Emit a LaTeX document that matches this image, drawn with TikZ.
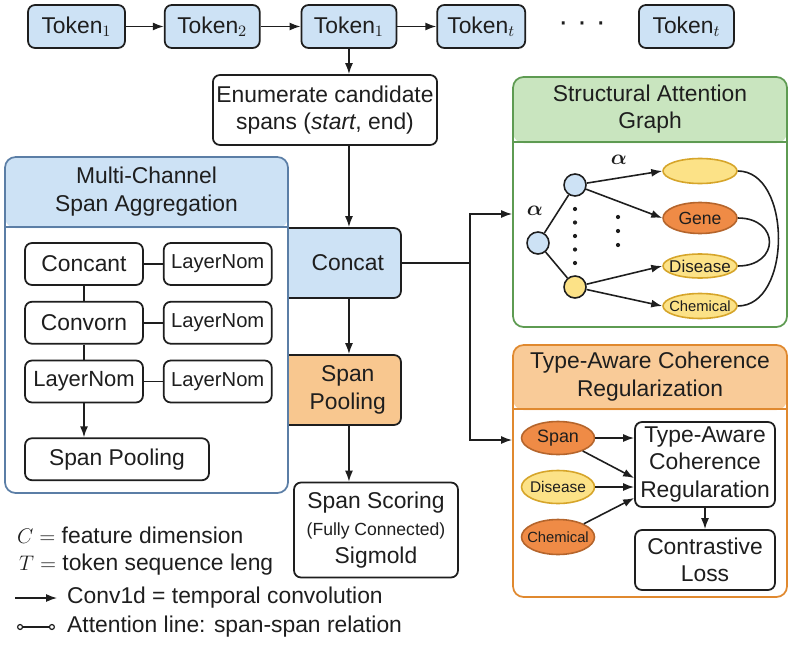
\documentclass[tikz,border=0pt]{standalone}
\usepackage{fontspec}
\setmainfont{Liberation Sans}
\usepackage{amsmath,amssymb}
\usetikzlibrary{arrows.meta,positioning,calc,shapes.geometric}
\definecolor{ink}{HTML}{1E1E1E}
\definecolor{skyfill}{HTML}{CDE2F5}
\definecolor{steel}{HTML}{5B7EA6}
\definecolor{peach}{HTML}{F8C78F}
\definecolor{mint}{HTML}{C9E5BF}
\definecolor{leaf}{HTML}{5E9B52}
\definecolor{apricot}{HTML}{F9CB98}
\definecolor{amber}{HTML}{E0892F}
\definecolor{butter}{HTML}{FCE287}
\definecolor{gold}{HTML}{D6A52A}
\definecolor{tangerine}{HTML}{EF8B46}
\definecolor{rust}{HTML}{B5652C}
\newcommand{\inell}[1]{\makebox[0pt]{#1}}

\begin{document}
\begin{tikzpicture}[x=0.02cm,y=-0.02cm,node distance=0.3cm and 0.38cm,every node/.style={font=\fontsize{13}{15.5}\selectfont,align=center,text=ink},token/.style={draw=ink,fill=skyfill,rounded corners=4pt,line width=1pt,minimum width=1.9cm,minimum height=0.86cm,inner sep=1pt},box/.style={draw=ink,fill=white,rounded corners=4pt,line width=1pt,inner sep=2pt},sub/.style={box,minimum height=0.84cm},panel/.style={draw=#1,fill=white,rounded corners=6pt,line width=1pt},headfill/.style 2 args={path picture={\fill[#1] (path picture bounding box.north west) rectangle ([yshift=-#2]path picture bounding box.north east);}},knot/.style={circle,draw=ink,line width=0.9pt,minimum size=0.44cm,inner sep=0pt},blob/.style={ellipse,draw=#1,line width=0.9pt,inner sep=0pt,minimum width=1.48cm},arr/.style={-{Latex[length=2.2mm,width=1.6mm]},line width=0.9pt,draw=ink},wire/.style={line width=0.9pt,draw=ink}]
\useasboundingbox (0,0) rectangle (793,645);
\node[token,minimum width=1.94cm] (t1) at (76.5,26.5) {Token$_1$};
\node[token,right=0.76cm of t1] (t2) {Token$_2$}; \node[token,right=0.8cm of t2] (t3) {Token$_1$};
\node[token,minimum width=1.76cm,right=0.78cm of t3] (t4) {Token$_t$}; \node[token,right=2.24cm of t4] (t5) {Token$_t$};
\node (tdots) at ($(t4.east)!0.5!(t5.west)$) {\fontsize{17}{17}\selectfont\textperiodcentered\hspace{5pt}\textperiodcentered\hspace{5pt}\textperiodcentered};
\draw[arr] (t1) -- (t2); \draw[arr] (t2) -- (t3); \draw[arr] (t3) -- (t4);
\node[box,minimum width=4cm,minimum height=1.4cm] (enum) at (325,110) {Enumerate candidate\\spans (\textit{start}, end)};
\draw[arr] (t3.south) -- (t3.south |- enum.north);
\node[token,minimum width=2.58cm,minimum height=1.4cm] (concat) at (336.5,263) {\hspace*{0.45cm}Concat};
\node[token,fill=peach,minimum width=2.58cm,minimum height=1.4cm] (pool) at (336.5,390) {\hspace*{0.45cm}Span\\\hspace*{0.45cm}Pooling};
\node[box,minimum width=3.28cm,minimum height=1.9cm] (score) at (376,530) {Span Scoring\\{\fontsize{10}{12}\selectfont(Fully Connected)}\\Sigmold};
\draw[arr] (enum.south -| t3) -- (concat.north -| t3);
\draw[arr] (concat.south -| t3) -- (pool.north -| t3);
\draw[arr] (pool.south -| t3) -- (score.north -| t3);
\node[panel=steel,headfill={skyfill}{1.42cm},minimum width=5.66cm,minimum height=6.72cm] (mca) at (146.5,325) {};
\draw[steel,line width=1pt] ([yshift=-1.42cm]mca.north west) -- ([yshift=-1.42cm]mca.north east);
\node (mcat) at ([yshift=-0.71cm]mca.north) {Multi-Channel\\Span Aggregation};
\node[sub,minimum width=2.36cm] (cc1) at (84,264) {Concant}; \node[sub,minimum width=2.16cm,right=0.38cm of cc1,font=\fontsize{11.5}{14}\selectfont] (ln1) {LayerNom};
\node[sub,minimum width=2.36cm,below=0.3cm of cc1] (cv) {Convorn}; \node[sub,minimum width=2.16cm,right=0.38cm of cv,font=\fontsize{11.5}{14}\selectfont] (ln2) {LayerNom};
\node[sub,minimum width=2.36cm,below=0.3cm of cv,font=\fontsize{12.5}{15}\selectfont] (ln3) {LayerNom}; \node[sub,minimum width=2.16cm,right=0.38cm of ln3,font=\fontsize{11.5}{14}\selectfont] (ln4) {LayerNom};
\node[sub,minimum width=3.68cm,below=0.68cm of ln3.south west,anchor=north west] (msp) {Span Pooling};
\draw[wire] (cc1) -- (ln1); \draw[wire] (cv) -- (ln2); \draw[wire] (ln3) -- (ln4);
\draw[wire] (cc1) -- (cv); \draw[wire] (cv) -- (ln3);
\draw[arr] (ln3) -- (msp.north -| ln3);
\node[panel=leaf,headfill={mint}{1.32cm},minimum width=5.48cm,minimum height=5cm] (sag) at (650,202) {};
\draw[leaf,line width=1pt] ([yshift=-1.32cm]sag.north west) -- ([yshift=-1.32cm]sag.north east);
\node (sagt) at ([yshift=-0.66cm]sag.north) {Structural Attention\\Graph};
\node[knot,fill=skyfill] (g0) at (538,243) {}; \node[knot,fill=skyfill] (g1) at (575,185) {}; \node[knot,fill=butter] (g2) at (575,287) {};
\node[blob=gold,fill=butter,minimum height=0.5cm] (ty0) at (700,171) {};
\node[blob=rust,fill=tangerine,minimum height=0.62cm,font=\fontsize{10}{12}\selectfont] (gene) at (700,218) {\inell{Gene}};
\node[blob=gold,fill=butter,minimum height=0.48cm,font=\fontsize{9.7}{12}\selectfont] (dis) at (700,266) {\inell{Disease}};
\node[blob=gold,fill=butter,minimum height=0.5cm,font=\fontsize{8.4}{10}\selectfont] (chem) at (700,306) {\inell{Chemical}};
\draw[wire] (g0) -- (g1); \draw[wire] (g0) -- (g2);
\draw[arr] (g1) -- (ty0.west); \draw[arr] (g1) -- (gene.west);
\draw[arr] (g2) -- (dis.west); \draw[arr] (g2) -- (chem.west);
\draw[wire] (ty0.east) .. controls (792,171) and (792,306) .. (chem.east);
\draw[wire] (gene.east) .. controls (780,218) and (780,266) .. (dis.east);
\node (al1) at (535,211) {$\boldsymbol{\alpha}$}; \node (al2) at (619,160) {$\boldsymbol{\alpha}$};
\fill[ink] (575,209) circle (1.2pt) (575,222.5) circle (1.2pt) (575,236) circle (1.2pt) (575,249.5) circle (1.2pt) (575,263) circle (1.2pt);
\fill[ink] (618,217) circle (1.2pt) (618,231) circle (1.2pt) (618,245) circle (1.2pt);
\node[panel=amber,headfill={apricot}{1.3cm},minimum width=5.48cm,minimum height=5.04cm] (tacr) at (650,471) {};
\draw[amber,line width=1pt] ([yshift=-1.3cm]tacr.north west) -- ([yshift=-1.3cm]tacr.north east);
\node (tacrt) at ([yshift=-0.65cm]tacr.north) {Type-Aware Coherence\\Regularization};
\node[blob=rust,fill=tangerine,minimum width=1.46cm,minimum height=0.66cm,font=\fontsize{10.2}{12}\selectfont] (tspan) at (558,438) {\inell{Span}};
\node[blob=gold,fill=butter,minimum width=1.46cm,minimum height=0.66cm,font=\fontsize{8.8}{11}\selectfont] (tdis) at (558,487) {\inell{Disease}};
\node[blob=rust,fill=tangerine,minimum width=1.46cm,minimum height=0.7cm,font=\fontsize{8.4}{10}\selectfont] (tchem) at (558,537) {\inell{Chemical}};
\node[box,minimum width=2.8cm,minimum height=1.7cm] (coh) at (705,464.5) {Type-Aware\\Coherence\\Regularation};
\node[box,minimum width=2.8cm,minimum height=1.2cm] (closs) at (705,560) {Contrastive\\Loss};
\draw[arr] (tspan) -- (coh.west |- tspan); \draw[arr] (tspan) -- ([yshift=-0.27cm]coh.west);
\draw[arr] (tdis) -- (coh.west |- tdis); \draw[arr] (tchem) -- ([yshift=-0.67cm]coh.west);
\draw[arr] (coh) -- (closs);
\coordinate (jn) at (470,263);
\draw[wire] (concat.east) -- (jn);
\draw[arr] (jn) |- ([yshift=-0.24cm]sag.west);
\draw[arr] (jn) |- ([yshift=0.62cm]tacr.west);
\node[anchor=west] (lgc) at (11,535) {$C =$ feature dimension};
\node[anchor=west] (lgt) at (13,565) {$T =$ token sequence leng};
\coordinate (lga) at (15,598); \coordinate (lgb) at (57,598);
\draw[arr,line width=0.7pt] (lga) -- (lgb);
\node[anchor=west] (lgconv) at (61,598) {Conv1d = temporal convolution};
\coordinate (lgd) at (17,627); \coordinate (lge) at (55,627);
\draw[wire,line width=0.7pt,{Circle[open,length=3.5pt]}-{Circle[open,length=3.5pt]}] (lgd) -- (lge);
\node[anchor=west] (lgatt) at (61,627) {Attention line: span-span relation};
\end{tikzpicture}
\end{document}
